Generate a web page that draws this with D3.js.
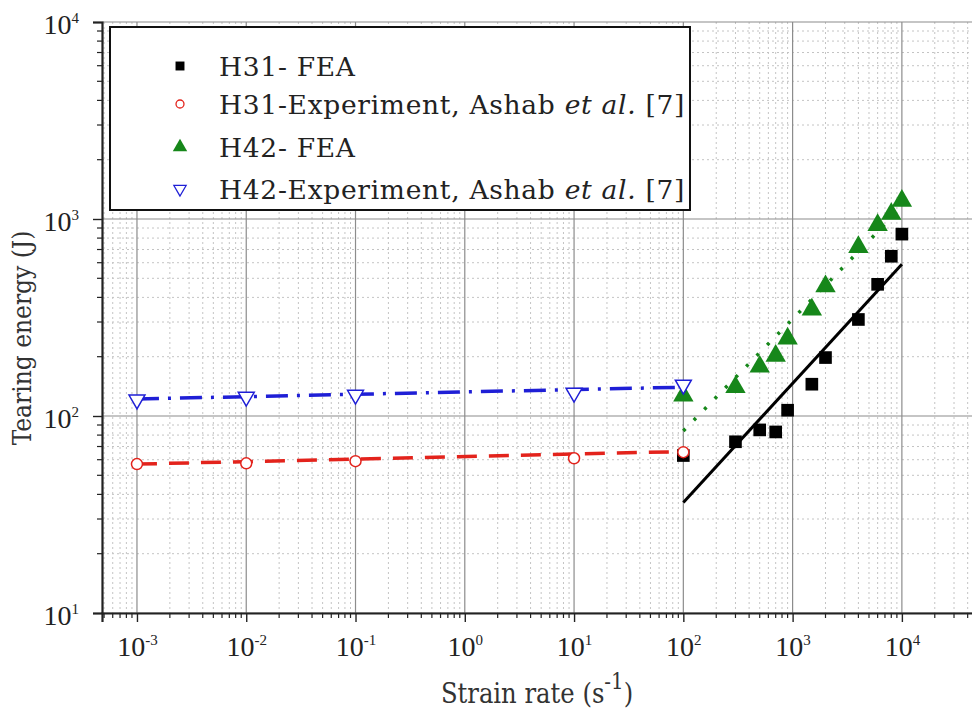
<!DOCTYPE html>
<html>
<head>
<meta charset="utf-8">
<script src="https://cdn.jsdelivr.net/npm/d3@7/dist/d3.min.js"></script>
<style>
  html, body { margin: 0; padding: 0; background: #fff; }
  svg { display: block; }
</style>
</head>
<body>
<svg id="chart" width="972" height="716"></svg>
<script>
// Tearing energy vs. strain rate, log-log
const xTickExps = [-3, -2, -1, 0, 1, 2, 3, 4];
const yTickExps = [1, 2, 3, 4];

// H31 FEA (filled squares)
const h31FeaRate   = [100, 300, 500, 700, 900, 1500, 2000, 4000, 6000, 8000, 10000];
const h31FeaEnergy = [63, 74, 85, 83, 107, 145, 198, 309, 466, 647, 838];

// H31 experiment (open circles)
const h31ExpRate   = [0.001, 0.01, 0.1, 10, 100];
const h31ExpEnergy = [57, 57.5, 59, 61, 65.5];

// H42 FEA (filled triangles)
const h42FeaRate   = [100, 300, 500, 700, 900, 1500, 2000, 4000, 6000, 8000, 10000];
const h42FeaEnergy = [127, 140, 178, 202, 247, 347, 455, 720, 931, 1061, 1236];

// H42 experiment (open down-triangles)
const h42ExpRate   = [0.001, 0.01, 0.1, 10, 100];
const h42ExpEnergy = [121, 125, 128, 131, 144];

// Fitted trend lines (end points)
const h31ExpFitRate = [0.001, 100], h31ExpFitEnergy = [57, 66];
const h42ExpFitRate = [0.001, 100], h42ExpFitEnergy = [122, 140];
const h31FeaFitRate = [100, 10000], h31FeaFitEnergy = [36.4, 589];
const h42FeaFitRate = [100, 10000], h42FeaFitEnergy = [84, 1150];

const legendLabels = [
  ["H31- FEA", null, null],
  ["H31-Experiment, Ashab ", "et al.", " [7]"],
  ["H42- FEA", null, null],
  ["H42-Experiment, Ashab ", "et al.", " [7]"]
];

const RED = "#e3231c", BLUE = "#1f1fd6", GREEN = "#16871a", BLACK = "#000";
const SERIF = "'Liberation Serif', 'Times New Roman', serif";
const SERIF_C = "'DejaVu Serif Condensed', 'DejaVu Serif', serif";

const svg = d3.select("#chart");
const mLeft = 102, mRight = 974, mTop = 22, mBottom = 613;

const x = d3.scaleLog().domain([Math.pow(10, -3.32), Math.pow(10, 4.66)]).range([mLeft, mRight]);
const y = d3.scaleLog().domain([10, 10000]).range([mBottom, mTop]);

// minor / major tick values
const xMinor = [], yMinor = [];
for (let e = -4; e <= 4; e++) for (let m = 2; m <= 9; m++) {
  const v = m * Math.pow(10, e);
  if (v > x.domain()[0] && v < x.domain()[1]) xMinor.push(v);
}
for (let e = 1; e <= 3; e++) for (let m = 2; m <= 9; m++) yMinor.push(m * Math.pow(10, e));
const xMajor = xTickExps.map(e => Math.pow(10, e));
const yMajor = yTickExps.map(e => Math.pow(10, e));

// grid
const grid = svg.append("g");
grid.selectAll(".gxm").data(xMinor).enter().append("line")
  .attr("x1", d => x(d)).attr("x2", d => x(d)).attr("y1", mTop).attr("y2", mBottom)
  .attr("stroke", "#c4c4c4").attr("stroke-width", 1).attr("stroke-dasharray", "2,3");
grid.selectAll(".gym").data(yMinor).enter().append("line")
  .attr("x1", mLeft).attr("x2", mRight).attr("y1", d => y(d)).attr("y2", d => y(d))
  .attr("stroke", "#c4c4c4").attr("stroke-width", 1).attr("stroke-dasharray", "2,3");
grid.selectAll(".gxM").data(xMajor).enter().append("line")
  .attr("x1", d => x(d)).attr("x2", d => x(d)).attr("y1", mTop).attr("y2", mBottom)
  .attr("stroke", "#8c8c8c").attr("stroke-width", 1.2);
grid.selectAll(".gyM").data(yMajor).enter().append("line")
  .attr("x1", mLeft).attr("x2", mRight).attr("y1", d => y(d)).attr("y2", d => y(d))
  .attr("stroke", "#8c8c8c").attr("stroke-width", 1.2);

// axes
function supLabel(sel, supFs, dy) {
  sel.each(function(d) {
    const t = d3.select(this);
    const e = Math.round(Math.log10(d));
    t.text(null);
    t.append("tspan").text("10");
    t.append("tspan").attr("font-size", supFs).attr("dy", dy).text(e);
  });
}

const xAxis = svg.append("g").attr("transform", `translate(0,${mBottom})`)
  .call(d3.axisBottom(x).tickValues(xMajor).tickSize(9).tickPadding(12).tickFormat(d => d));
xAxis.append("g").selectAll("line").data(xMinor).enter().append("line")
  .attr("x1", d => x(d)).attr("x2", d => x(d)).attr("y1", 0).attr("y2", 5)
  .attr("stroke", "#222").attr("stroke-width", 1.2);
xAxis.select(".domain").attr("stroke", "#222").attr("stroke-width", 2.2);
xAxis.selectAll(".tick line").attr("stroke", "#222").attr("stroke-width", 1.4);
xAxis.selectAll(".tick text")
  .attr("font-family", SERIF).attr("font-size", 28).attr("fill", "#222").attr("dy", "0.8em")
  .call(supLabel, 15, "-0.75em");

const yAxis = svg.append("g").attr("transform", `translate(${mLeft},0)`)
  .call(d3.axisLeft(y).tickValues(yMajor).tickSize(9).tickPadding(14).tickFormat(d => d));
yAxis.append("g").selectAll("line").data(yMinor).enter().append("line")
  .attr("x1", 0).attr("x2", -5).attr("y1", d => y(d)).attr("y2", d => y(d))
  .attr("stroke", "#222").attr("stroke-width", 1.2);
yAxis.select(".domain").attr("stroke", "#222").attr("stroke-width", 2.2);
yAxis.selectAll(".tick line").attr("stroke", "#222").attr("stroke-width", 1.4);
yAxis.selectAll(".tick text")
  .attr("font-family", SERIF).attr("font-size", 28).attr("fill", "#222").attr("dy", "0.42em")
  .call(supLabel, 15, "-0.75em");

// axis titles
svg.append("text").attr("x", 537).attr("y", 703).attr("text-anchor", "middle")
  .attr("font-family", SERIF_C).attr("font-size", 27).attr("fill", "#333")
  .call(t => { t.append("tspan").text("Strain rate (s");
               t.append("tspan").attr("dy", -14).attr("font-size", 22).text("-1");
               t.append("tspan").attr("dy", 14).text(")"); });
svg.append("text").attr("transform", "translate(31,338) rotate(-90)").attr("text-anchor", "middle")
  .attr("font-family", SERIF_C).attr("font-size", 26).attr("fill", "#333")
  .text("Tearing energy (J)");

// data layer
const plot = svg.append("g");
const lineGen = d3.line().x(d => x(d[0])).y(d => y(d[1]));
const zip = (a, b) => a.map((v, i) => [v, b[i]]);

plot.append("path").datum(zip(h31ExpFitRate, h31ExpFitEnergy)).attr("d", lineGen)
  .attr("fill", "none").attr("stroke", RED).attr("stroke-width", 3.5).attr("stroke-dasharray", "20,12");
plot.append("path").datum(zip(h42ExpFitRate, h42ExpFitEnergy)).attr("d", lineGen)
  .attr("fill", "none").attr("stroke", BLUE).attr("stroke-width", 3.5).attr("stroke-dasharray", "22,9,3,9");
plot.append("path").datum(zip(h42FeaFitRate, h42FeaFitEnergy)).attr("d", lineGen)
  .attr("fill", "none").attr("stroke", GREEN).attr("stroke-width", 3.5).attr("stroke-dasharray", "3,12");
plot.append("path").datum(zip(h31FeaFitRate, h31FeaFitEnergy)).attr("d", lineGen)
  .attr("fill", "none").attr("stroke", BLACK).attr("stroke-width", 3);

const sq = d3.symbol().type(d3.symbolSquare).size(160);
const tri = d3.symbol().type(d3.symbolTriangle).size(180);
const circ = d3.symbol().type(d3.symbolCircle).size(95);
const triOpen = d3.symbol().type(d3.symbolTriangle).size(110);

plot.selectAll(".h31f").data(zip(h31FeaRate, h31FeaEnergy)).enter().append("path")
  .attr("d", sq).attr("transform", d => `translate(${x(d[0])},${y(d[1])})`).attr("fill", BLACK);
plot.selectAll(".h42f").data(zip(h42FeaRate, h42FeaEnergy)).enter().append("path")
  .attr("d", tri).attr("transform", d => `translate(${x(d[0])},${y(d[1])})`).attr("fill", GREEN);
plot.selectAll(".h31e").data(zip(h31ExpRate, h31ExpEnergy)).enter().append("path")
  .attr("d", circ).attr("transform", d => `translate(${x(d[0])},${y(d[1])})`)
  .attr("fill", "#fff").attr("stroke", RED).attr("stroke-width", 1.5);
plot.selectAll(".h42e").data(zip(h42ExpRate, h42ExpEnergy)).enter().append("path")
  .attr("d", triOpen).attr("transform", d => `translate(${x(d[0])},${y(d[1])}) rotate(180)`)
  .attr("fill", "#fff").attr("stroke", BLUE).attr("stroke-width", 1.5);

// legend
const lg = svg.append("g");
lg.append("rect").attr("x", 110).attr("y", 27).attr("width", 580).attr("height", 183)
  .attr("fill", "#fff").attr("stroke", "#111").attr("stroke-width", 2);
const rowY = [66, 104, 147, 189];
const legSyms = [
  { g: d3.symbol().type(d3.symbolSquare).size(80), fill: BLACK, stroke: "none", rot: 0 },
  { g: d3.symbol().type(d3.symbolCircle).size(50), fill: "#fff", stroke: RED, rot: 0 },
  { g: d3.symbol().type(d3.symbolTriangle).size(90), fill: GREEN, stroke: "none", rot: 0 },
  { g: d3.symbol().type(d3.symbolTriangle).size(65), fill: "#fff", stroke: BLUE, rot: 180 }
];
legendLabels.forEach((lab, i) => {
  const s = legSyms[i];
  lg.append("path").attr("d", s.g).attr("transform", `translate(180,${rowY[i]}) rotate(${s.rot})`)
    .attr("fill", s.fill).attr("stroke", s.stroke).attr("stroke-width", 1.3);
  const t = lg.append("text").attr("x", 219).attr("y", rowY[i]).attr("dy", "0.36em")
    .attr("font-family", "'DejaVu Serif', serif").attr("font-size", 26.5)
    .attr("letter-spacing", 0.7).attr("fill", "#222");
  t.append("tspan").text(lab[0]);
  if (lab[1]) {
    t.append("tspan").attr("font-style", "italic").text(lab[1]);
    t.append("tspan").text(lab[2]);
  }
});
</script>
</body>
</html>
